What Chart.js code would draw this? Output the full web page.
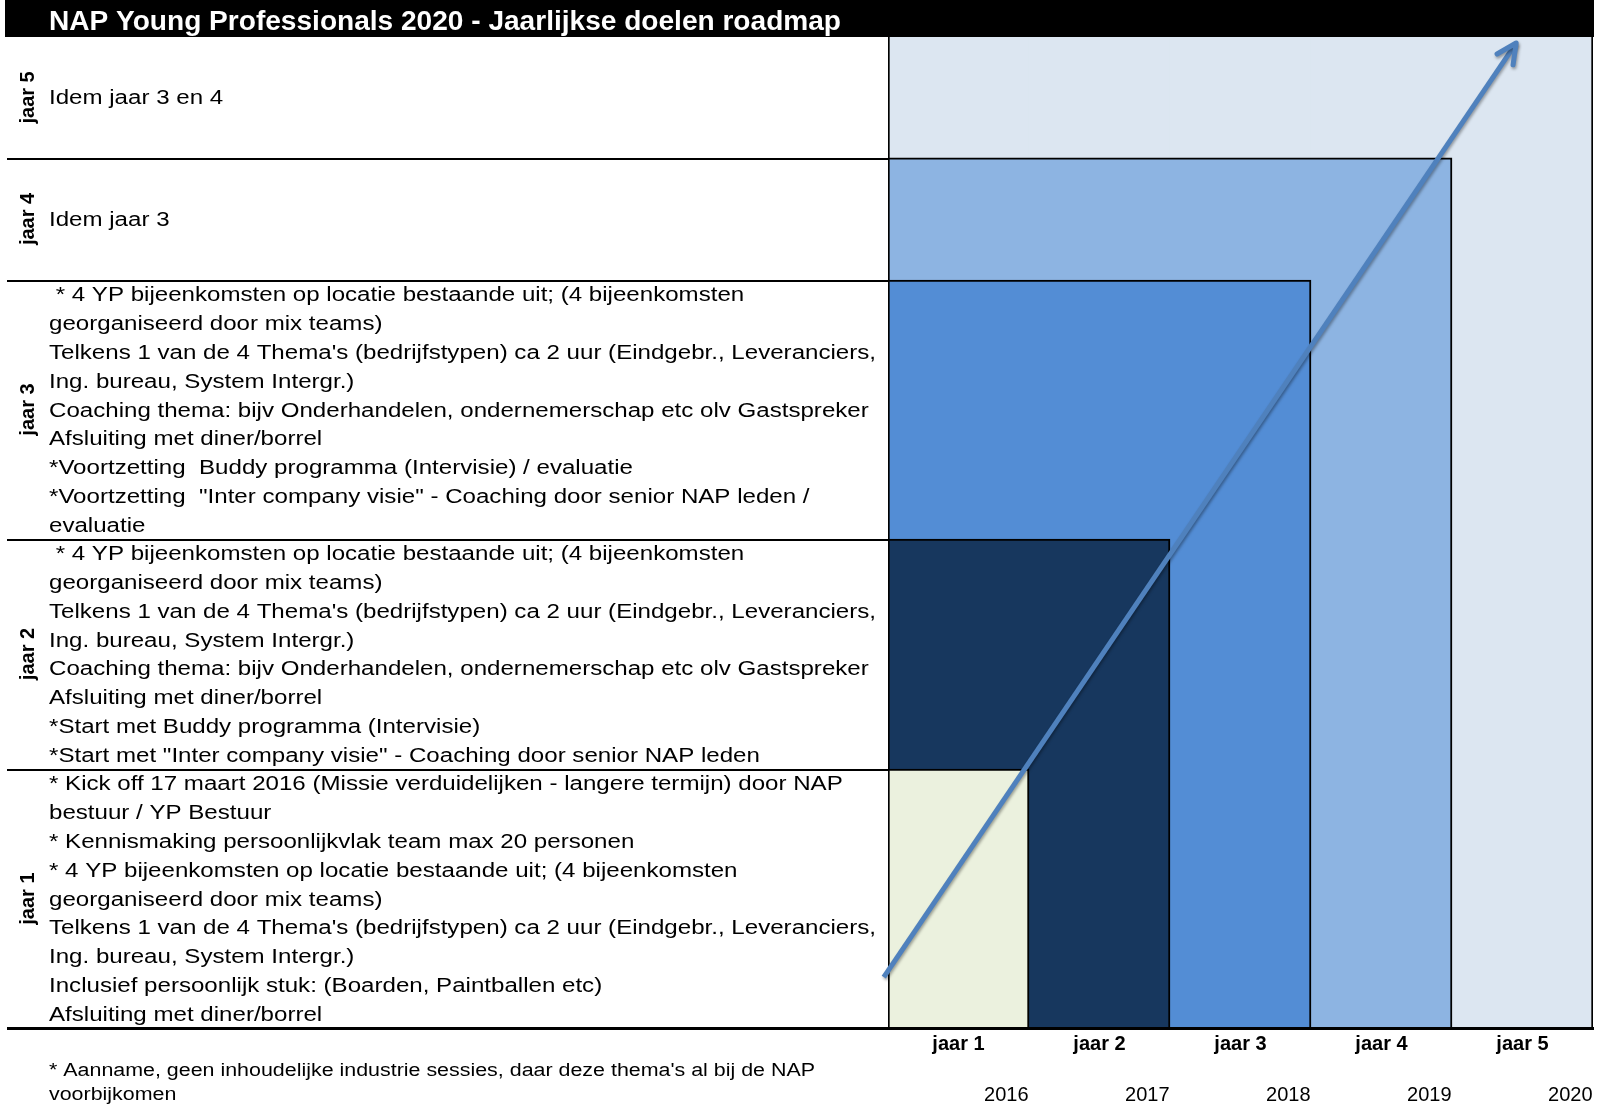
<!DOCTYPE html>
<html lang="nl">
<head>
<meta charset="UTF-8">
<title>NAP Young Professionals 2020 - Jaarlijkse doelen roadmap</title>
<script src="https://cdn.jsdelivr.net/npm/chart.js"></script>
<style>
  html, body { margin: 0; padding: 0; background: #fff; }
  .grafiek { width: 1608px; height: 1110px; }
</style>
</head>
<body>

<div class="grafiek"><canvas id="roadmap"></canvas></div>

<script>
const titel = 'NAP Young Professionals 2020 - Jaarlijkse doelen roadmap';
const jaren = ['jaar 1', 'jaar 2', 'jaar 3', 'jaar 4', 'jaar 5'];
const kalenderjaren = ['2016', '2017', '2018', '2019', '2020'];
// hoogte van iedere rij in tekstregels, jaar 1 onderaan t/m jaar 5 bovenaan
const rijHoogte = [9, 8, 9, 4.25, 4.2];
// pijl over de trap (x in kolommen, y in regels)
const pijlX = [-0.53, 3.955];
const pijlY = [1.77, 34.24];

const tekstJaar1 = [
  '* Kick off 17 maart 2016 (Missie verduidelijken - langere termijn) door NAP',
  'bestuur / YP Bestuur',
  '* Kennismaking persoonlijkvlak team max 20 personen',
  '* 4 YP bijeenkomsten op locatie bestaande uit; (4 bijeenkomsten',
  'georganiseerd door mix teams)',
  "Telkens 1 van de 4 Thema's (bedrijfstypen) ca 2 uur (Eindgebr., Leveranciers,",
  'Ing. bureau, System Intergr.)',
  'Inclusief persoonlijk stuk: (Boarden, Paintballen etc)',
  'Afsluiting met diner/borrel'
];
const tekstJaar2 = [
  ' * 4 YP bijeenkomsten op locatie bestaande uit; (4 bijeenkomsten',
  'georganiseerd door mix teams)',
  "Telkens 1 van de 4 Thema's (bedrijfstypen) ca 2 uur (Eindgebr., Leveranciers,",
  'Ing. bureau, System Intergr.)',
  'Coaching thema: bijv Onderhandelen, ondernemerschap etc olv Gastspreker',
  'Afsluiting met diner/borrel',
  '*Start met Buddy programma (Intervisie)',
  '*Start met "Inter company visie" - Coaching door senior NAP leden'
];
const tekstJaar3 = [
  ' * 4 YP bijeenkomsten op locatie bestaande uit; (4 bijeenkomsten',
  'georganiseerd door mix teams)',
  "Telkens 1 van de 4 Thema's (bedrijfstypen) ca 2 uur (Eindgebr., Leveranciers,",
  'Ing. bureau, System Intergr.)',
  'Coaching thema: bijv Onderhandelen, ondernemerschap etc olv Gastspreker',
  'Afsluiting met diner/borrel',
  '*Voortzetting  Buddy programma (Intervisie) / evaluatie',
  '*Voortzetting  "Inter company visie" - Coaching door senior NAP leden /',
  'evaluatie'
];
const tekstJaar4 = ['Idem jaar 3'];
const tekstJaar5 = ['Idem jaar 3 en 4'];
const voetnoot = [
  "* Aanname, geen inhoudelijke industrie sessies, daar deze thema's al bij de NAP",
  'voorbijkomen'
];

const rijTeksten = [tekstJaar1, tekstJaar2, tekstJaar3, tekstJaar4, tekstJaar5];
const kleuren = ['#EBF1DE', '#17375E', '#538DD5', '#8DB4E2', '#DCE6F1'];

let som = 0;
const cumulatief = rijHoogte.map(h => som += h);

Chart.defaults.font.family = '"Liberation Sans", Arial, sans-serif';
Chart.defaults.color = '#000';

// elke jaar-rechthoek loopt van de linkerkant tot en met zijn eigen kolom
const balkSets = jaren.map((label, k) => ({
  type: 'bar',
  label: label,
  xAxisID: 'x',
  yAxisID: 'y',
  data: jaren.map((_, i) => i <= k ? cumulatief[k] : null),
  backgroundColor: kleuren[k],
  borderColor: '#000',
  borderWidth: c => ({
    top: k === 4 ? 0 : 2,
    right: c.dataIndex === k ? 2 : 0,
    bottom: 0,
    left: c.dataIndex === 0 ? 2 : 0
  }),
  borderSkipped: false,
  grouped: false,
  barPercentage: 1,
  categoryPercentage: 1,
  order: k + 1
}));

const pijlSet = {
  type: 'line',
  label: 'pijl',
  xAxisID: 'xa',
  yAxisID: 'y',
  data: pijlX.map((x, i) => ({ x: x, y: pijlY[i] })),
  borderColor: '#4F81BD',
  borderWidth: 5,
  pointRadius: 0,
  clip: false,
  order: 0
};

function tekstGeschaald(ctx, tekst, x, y, schaal) {
  ctx.save();
  ctx.translate(x, y);
  ctx.scale(schaal, 1);
  ctx.fillText(tekst, 0, 0);
  ctx.restore();
}

const roadmapPlugin = {
  id: 'roadmap',
  beforeDatasetDraw(chart, args) {
    if (args.meta.type !== 'line') return;
    const ctx = chart.ctx;
    ctx.save();
    ctx.shadowColor = 'rgba(0,0,0,0.35)';
    ctx.shadowBlur = 3;
    ctx.shadowOffsetX = 1;
    ctx.shadowOffsetY = 2;
  },
  afterDatasetDraw(chart, args) {
    if (args.meta.type !== 'line') return;
    const ctx = chart.ctx;
    const p0 = args.meta.data[0], p1 = args.meta.data[1];
    const hoek = Math.atan2(p1.y - p0.y, p1.x - p0.x) + Math.PI;
    const spreid = 26 * Math.PI / 180, lengte = 22;
    ctx.strokeStyle = '#4F81BD';
    ctx.lineWidth = 5;
    ctx.lineCap = 'round';
    ctx.lineJoin = 'round';
    ctx.beginPath();
    ctx.moveTo(p1.x + lengte * Math.cos(hoek - spreid), p1.y + lengte * Math.sin(hoek - spreid));
    ctx.lineTo(p1.x, p1.y);
    ctx.lineTo(p1.x + lengte * Math.cos(hoek + spreid), p1.y + lengte * Math.sin(hoek + spreid));
    ctx.stroke();
    ctx.restore();
  },
  afterDatasetsDraw(chart) {
    const ctx = chart.ctx;
    const area = chart.chartArea;
    const y = chart.scales.y;
    const eenheid = y.getPixelForValue(0) - y.getPixelForValue(1);

    ctx.save();
    // titelbalk
    ctx.fillStyle = '#000';
    ctx.fillRect(5, 0, area.right + 1 - 5, area.top);
    ctx.font = 'bold 27px "Liberation Sans", Arial, sans-serif';
    ctx.fillStyle = '#fff';
    ctx.textAlign = 'left';
    ctx.textBaseline = 'alphabetic';
    tekstGeschaald(ctx, titel, 49, 29.5, 792 / ctx.measureText(titel).width);

    // rijlijnen in de tekstkolom en de onderrand
    ctx.fillStyle = '#000';
    for (let k = 0; k < 4; k++) {
      ctx.fillRect(7, Math.round(y.getPixelForValue(cumulatief[k])), area.left - 7, 2);
    }
    ctx.fillRect(7, area.bottom - 1, area.right + 1 - 7, 3);

    // rijlabels
    ctx.font = 'bold 20px "Liberation Sans", Arial, sans-serif';
    ctx.textAlign = 'center';
    jaren.forEach((label, k) => {
      const midden = (y.getPixelForValue(k ? cumulatief[k - 1] : 0) + y.getPixelForValue(cumulatief[k])) / 2;
      ctx.save();
      ctx.translate(33.5, midden);
      ctx.rotate(-Math.PI / 2);
      ctx.fillText(label, 0, 0);
      ctx.restore();
    });

    // teksten per jaar
    ctx.textAlign = 'left';
    ctx.font = '19.5px "Liberation Sans", Arial, sans-serif';
    const schaal = 827 / ctx.measureText(tekstJaar1[5]).width;
    rijTeksten.forEach((regels, k) => {
      const boven = y.getPixelForValue(cumulatief[k]);
      const marge = (rijHoogte[k] - regels.length) / 2;
      regels.forEach((regel, i) => {
        const cy = boven + (marge + i + 0.5) * eenheid;
        tekstGeschaald(ctx, regel, 49, cy + 7, schaal);
      });
    });

    // voetnoot
    ctx.font = '18px "Liberation Sans", Arial, sans-serif';
    const schaalNoot = 766 / ctx.measureText(voetnoot[0]).width;
    voetnoot.forEach((regel, i) => {
      tekstGeschaald(ctx, regel, 49, area.bottom + 48 + i * 24, schaalNoot);
    });
    ctx.restore();
  }
};

new Chart(document.getElementById('roadmap'), {
  type: 'bar',
  data: {
    labels: jaren,
    datasets: [...balkSets, pijlSet]
  },
  options: {
    responsive: true,
    maintainAspectRatio: false,
    animation: false,
    layout: { padding: { left: 888, right: 15, top: 37, bottom: 0 } },
    plugins: {
      legend: { display: false },
      tooltip: { enabled: false }
    },
    scales: {
      x: {
        type: 'category',
        position: 'bottom',
        offset: true,
        weight: 0,
        grid: { display: false, drawTicks: false },
        border: { display: false },
        ticks: { color: '#000', padding: 4, font: { size: 20, weight: 'bold' } }
      },
      jaartal: {
        type: 'category',
        labels: kalenderjaren,
        position: 'bottom',
        offset: true,
        weight: 1,
        grid: { display: false, drawTicks: false },
        border: { display: false },
        ticks: { color: '#000', padding: 23, align: 'end', labelOffset: 70, font: { size: 20 } },
        afterFit: s => { s.height = 50; }
      },
      xa: { type: 'linear', display: false, offset: false, min: -0.5, max: 4.5 },
      y: { type: 'linear', display: false, min: 0, max: cumulatief[4] }
    }
  },
  plugins: [roadmapPlugin]
});
</script>

</body>
</html>
